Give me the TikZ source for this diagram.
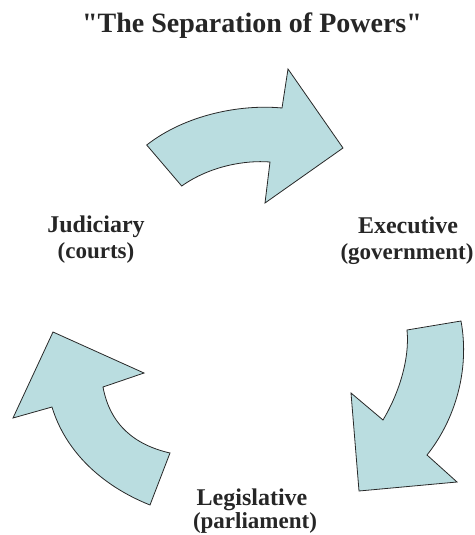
\documentclass[tikz,border=0pt]{standalone}
\usepackage{fontspec}
\setmainfont{Liberation Serif}
\definecolor{arrowfill}{RGB}{186,221,224}
\definecolor{arrowline}{RGB}{40,40,40}
\newcommand{\straightquote}{\XeTeXglyph\the\XeTeXcharglyph"22\relax}
\tikzset{
  bigarrow/.style={fill=arrowfill, draw=arrowline, line width=0.8pt, line join=miter},
  lbl/.style={font=\bfseries\fontsize{24}{26}\selectfont, anchor=base, inner sep=0pt, text=black!85},
  sublbl/.style={font=\bfseries\fontsize{23}{25}\selectfont, anchor=base, inner sep=0pt, text=black!85},
  ttl/.style={font=\bfseries\fontsize{28}{30}\selectfont, anchor=base, inner sep=0pt, text=black!85}
}
\begin{document}
\begin{tikzpicture}[x=1pt,y=-1pt]
\useasboundingbox (0,0) rectangle (474,535);
\node[ttl] (title) at (252,33) {\straightquote The Separation of Powers\straightquote};
% top arrow
\draw[bigarrow] (146.7,145) -- (181.7,186) .. controls (210,166) and (245,160) .. (270,162)
  -- (265,203) -- (343,148) -- (288,69) -- (282,108)
  .. controls (240,104) and (185,115) .. (146.7,145) -- cycle;
% right arrow
\draw[bigarrow] (407,330) -- (461,321) .. controls (470,370) and (455,420) .. (427,455)
  -- (457,482) -- (359,491) -- (351,393) -- (383,420)
  .. controls (398,395) and (410,360) .. (407,330) -- cycle;
% left arrow
\draw[bigarrow] (53,332) -- (144,373) -- (103,387) .. controls (110,425) and (135,445) .. (170,453)
  -- (150,505) .. controls (100,485) and (65,450) .. (52,407) -- (13,418) -- cycle;
\node[lbl] (jud) at (96,232) {Judiciary};
\node[sublbl] (jud2) at (96,258) {(courts)};
\node[lbl] (exe) at (408,233) {Executive};
\node[sublbl] (exe2) at (407,259) {(government)};
\node[lbl] (leg) at (252,505) {Legislative};
\node[sublbl] (leg2) at (255,528) {(parliament)};
\end{tikzpicture}
\end{document}
